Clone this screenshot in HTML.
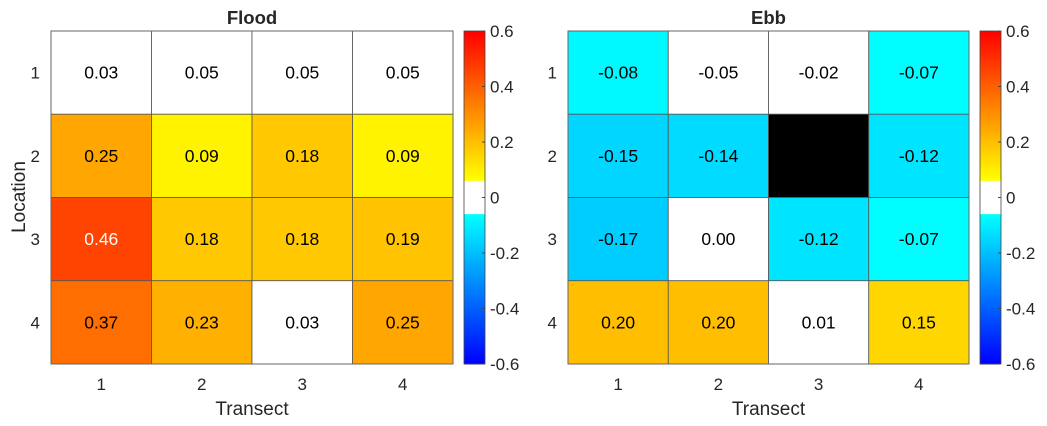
<!DOCTYPE html>
<html><head><meta charset="utf-8">
<style>
html,body{margin:0;padding:0;background:#fff;}
svg{display:block;font-family:"Liberation Sans",Arial,sans-serif;}
</style></head>
<body>
<svg id="chart" width="1047" height="426" viewBox="0 0 1047 426"></svg>
<script>
const transects = ["1","2","3","4"];
const locations = ["1","2","3","4"];
const floodValues = [
  [0.03,0.05,0.05,0.05],
  [0.25,0.09,0.18,0.09],
  [0.46,0.18,0.18,0.19],
  [0.37,0.23,0.03,0.25]
];
const ebbValues = [
  [-0.08,-0.05,-0.02,-0.07],
  [-0.15,-0.14,null,-0.12],
  [-0.17,0.00,-0.12,-0.07],
  [0.20,0.20,0.01,0.15]
];
const colorbarTicks = [0.6,0.4,0.2,0,-0.2,-0.4,-0.6];
const colorbarLabels = ["0.6","0.4","0.2","0","-0.2","-0.4","-0.6"];

const NS="http://www.w3.org/2000/svg";
const svg=document.getElementById('chart');
function mk(tag,attrs,parent){const e=document.createElementNS(NS,tag);for(const k in attrs)e.setAttribute(k,attrs[k]);(parent||svg).appendChild(e);return e;}
const CMIN=-0.6,CMAX=0.6,WH=0.065;
function color(v){
  if(v===null) return "#000";
  if(Math.abs(v)<WH) return "#fff";
  if(v>0){const g=Math.max(0,Math.min(255,Math.round(255*(CMAX-v)/(CMAX-WH))));return `rgb(255,${g},0)`;}
  const g=Math.max(0,Math.min(255,Math.round(255*(v-CMIN)/(-WH-CMIN))));return `rgb(0,${g},255)`;
}
function panel(title,vals,x0,x1,cbx,name){
  const y0=31,y1=364;
  const g=mk('g',{});
  
  
  const cw=(x1-x0)/transects.length, ch=(y1-y0)/locations.length;
  const xs=i=>x0+i*cw, ys=j=>y0+j*ch;
  vals.forEach((row,j)=>row.forEach((v,i)=>{
    const r=mk('rect',{x:xs(i),y:ys(j),width:cw,height:ch,fill:color(v),stroke:'#555','stroke-width':0.8},g);
    
    
    if(v!==null){
      const t=mk('text',{x:xs(i)+cw/2,y:ys(j)+ch/2+6,'text-anchor':'middle','font-size':17.5,fill:v>0.42?'#fff':'#000'},g);
      t.textContent=v.toFixed(2);
      
      
    }
  }));
  mk('rect',{x:x0,y:y0,width:x1-x0,height:y1-y0,fill:'none',stroke:'#666','stroke-width':1},g);
  transects.forEach((t,i)=>{
    const e=mk('text',{x:xs(i)+cw/2,y:390,'text-anchor':'middle','font-size':17,fill:'#262626'},g);
    e.textContent=t;
    
    
  });
  locations.forEach((t,j)=>{
    const e=mk('text',{x:x0-11,y:ys(j)+ch/2+6,'text-anchor':'end','font-size':17,fill:'#262626'},g);
    e.textContent=t;
    
    
  });
  const tt=mk('text',{x:(x0+x1)/2,y:24,'text-anchor':'middle','font-size':18.5,'font-weight':'bold',fill:'#262626'},g);
  tt.textContent=title;
  
  
  const xt=mk('text',{x:(x0+x1)/2,y:415,'text-anchor':'middle','font-size':19,fill:'#262626'},g);
  xt.textContent='Transect';
  
  
  const cb=mk('g',{},g);
  
  
  const cy=v=>y0+(CMAX-v)/(CMAX-CMIN)*(y1-y0);
  const N=120;
  for(let k=0;k<N;k++){
    const v1=CMAX-(k)*(CMAX-CMIN)/N, v2=CMAX-(k+1)*(CMAX-CMIN)/N;
    mk('rect',{x:cbx,y:cy(v1),width:21,height:cy(v2)-cy(v1)+0.5,fill:color((v1+v2)/2)},cb);
  }
  mk('rect',{x:cbx,y:y0,width:21,height:y1-y0,fill:'none',stroke:'#444','stroke-width':0.8},cb);
  colorbarTicks.forEach((v,k)=>{
    mk('line',{x1:cbx+21,x2:cbx+18,y1:cy(v),y2:cy(v),stroke:'#444'},cb);
    const e=mk('text',{x:cbx+26,y:cy(v)+6,'font-size':17,fill:'#262626'},cb);
    e.textContent=colorbarLabels[k];
    
    
  });
}
panel('Flood',floodValues,51,453,464,'flood');
panel('Ebb',ebbValues,568,969,980,'ebb');
const yl=mk('text',{x:0,y:0,'text-anchor':'middle','font-size':19,fill:'#262626',transform:'translate(25,197) rotate(-90)'});
yl.textContent='Location';


</script>
</body></html>
